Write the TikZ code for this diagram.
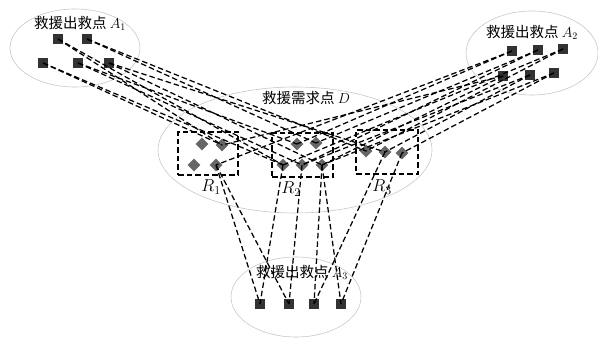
\documentclass[tikz,border=0pt]{standalone}
\usepackage{fontspec}
\newfontfamily\cjk{Noto Sans CJK SC}
\usepackage{tikz}
\usetikzlibrary{shapes.geometric, positioning}

\tikzset{
  depot/.style={rectangle, fill=black!80, minimum size=9.5pt, inner sep=0pt},
  demand/.style={diamond, fill=black!60, minimum size=13pt, inner sep=0pt},
  region/.style={ellipse, draw=black!22, line width=0.6pt},
  route/.style={line width=1.25pt, dash pattern=on 5.5pt off 3pt},
  zone/.style={draw, line width=1.3pt, dash pattern=on 5.5pt off 3pt, inner sep=0pt},
  tag/.style={font=\fontsize{14.5}{16}\selectfont\cjk, inner sep=1pt},
  rtag/.style={font=\fontsize{17}{18}\selectfont, inner sep=1pt}
}

\begin{document}
\begin{tikzpicture}[x=1pt, y=-1pt]
      \useasboundingbox (0,0) rectangle (598,339);
      % Regions
      \node[region, minimum width=130pt, minimum height=78pt] (regA1) at (75,48) {};
      \node[region, minimum width=132pt, minimum height=84pt] (regA2) at (532,53) {};
      \node[region, minimum width=274pt, minimum height=126pt] (regD) at (295,150) {};
      \node[region, minimum width=130pt, minimum height=80pt] (regA3) at (296,297) {};

      % Labels
      \node[tag] (labA1) at (80,23) {救援出救点 $A_1$};
      \node[tag] (labA2) at (532,32) {救援出救点 $A_2$};
      \node[tag] (labD) at (306,98) {救援需求点 $D$};
      \node[tag] (labA3) at (302,272) {救援出救点 $A_3$};

      % Demand zones
      \node[zone, minimum width=60pt, minimum height=43pt] (zone1) at (208,153.5) {};
      \node[zone, minimum width=61pt, minimum height=44pt] (zone2) at (302.5,155) {};
      \node[zone, minimum width=62pt, minimum height=44pt] (zone3) at (387,152) {};
      \node[rtag] (labR1) at (211,187) {$R_1$};
      \node[rtag] (labR2) at (291,189) {$R_2$};
      \node[rtag] (labR3) at (382,187) {$R_3$};

      % Demand points
      \node[demand] (d11) at (202,144) {};
      \node[demand] (d12) at (222,145) {};
      \node[demand] (d13) at (194,165) {};
      \node[demand] (d14) at (216,165) {};
      \node[demand] (d21) at (297,144) {};
      \node[demand] (d22) at (316,143) {};
      \node[demand] (d23) at (283,165) {};
      \node[demand] (d24) at (302,165) {};
      \node[demand] (d25) at (322,165) {};
      \node[demand] (d31) at (366,151) {};
      \node[demand] (d32) at (385,152) {};
      \node[demand] (d33) at (402,153) {};

      % Depots
      \node[depot] (a11) at (58,39) {};
      \node[depot] (a12) at (87,39) {};
      \node[depot] (a13) at (43,63) {};
      \node[depot] (a14) at (78,63) {};
      \node[depot] (a15) at (109,63) {};
      \node[depot] (a21) at (512,51) {};
      \node[depot] (a22) at (538,50) {};
      \node[depot] (a23) at (563,49) {};
      \node[depot] (a24) at (503,76) {};
      \node[depot] (a25) at (530,75) {};
      \node[depot] (a26) at (554,73) {};
      \node[depot] (a31) at (260,304) {};
      \node[depot] (a32) at (289,304) {};
      \node[depot] (a33) at (314,304) {};
      \node[depot] (a34) at (341,304) {};

      % Routes
      \foreach \from/\to in {a11/d12, a11/d23, a12/d22, a12/d31, a13/d12, a13/d23,
                             a14/d21, a14/d24, a15/d25, a15/d32,
                             a21/d21, a21/d14, a22/d24, a22/d22, a23/d31, a23/d23,
                             a24/d25, a24/d12, a25/d32, a25/d24, a26/d33, a26/d25,
                             d14/a31, d14/a32, d23/a31, d24/a32, d25/a33, d25/a34,
                             d32/a33, d33/a34}
        \draw[route] (\from.center) -- (\to.center);
    \end{tikzpicture}
\end{document}
